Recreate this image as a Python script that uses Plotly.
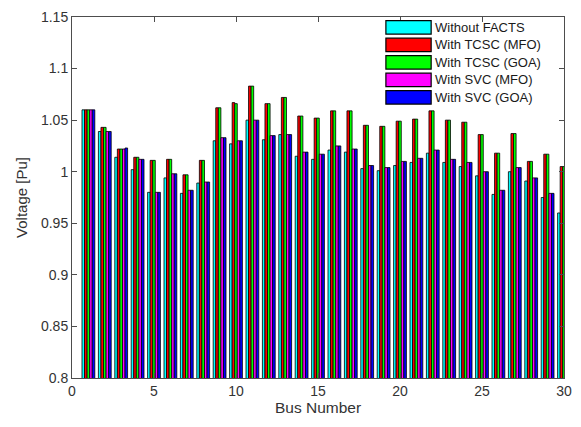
import plotly.graph_objects as go

# Bus voltage profile for the 30-bus system with and without FACTS devices
buses = list(range(1, 31))

without_facts = [1.060, 1.039, 1.014, 1.002, 0.980, 0.994, 0.979, 0.989, 1.030, 1.027,
                 1.050, 1.031, 1.036, 1.015, 1.012, 1.021, 1.019, 1.003, 1.001, 1.006,
                 1.009, 1.018, 1.009, 1.005, 0.996, 0.978, 1.000, 0.991, 0.975, 0.960]

tcsc_mfo = [1.060, 1.043, 1.022, 1.014, 1.011, 1.012, 0.997, 1.011, 1.062, 1.067,
            1.083, 1.066, 1.072, 1.054, 1.052, 1.059, 1.059, 1.045, 1.044, 1.049,
            1.051, 1.059, 1.050, 1.048, 1.036, 1.018, 1.037, 1.010, 1.017, 1.005]

tcsc_goa = [1.060, 1.043, 1.022, 1.014, 1.011, 1.012, 0.997, 1.011, 1.062, 1.066,
            1.083, 1.066, 1.072, 1.054, 1.052, 1.059, 1.059, 1.045, 1.044, 1.049,
            1.051, 1.059, 1.050, 1.048, 1.036, 1.018, 1.037, 1.010, 1.017, 1.005]

svc_mfo = [1.060, 1.039, 1.022, 1.012, 0.980, 0.998, 0.982, 0.990, 1.033, 1.030,
           1.050, 1.035, 1.036, 1.019, 1.017, 1.025, 1.022, 1.006, 1.004, 1.010,
           1.013, 1.021, 1.012, 1.009, 1.000, 0.982, 1.004, 0.994, 0.979, 0.963]

svc_goa = [1.060, 1.039, 1.023, 1.012, 0.980, 0.998, 0.982, 0.990, 1.033, 1.030,
           1.050, 1.035, 1.036, 1.019, 1.017, 1.025, 1.022, 1.006, 1.004, 1.010,
           1.013, 1.021, 1.012, 1.009, 1.000, 0.982, 1.004, 0.994, 0.979, 0.963]

series_names = ["Without FACTS", "With TCSC (MFO)", "With TCSC (GOA)",
                "With SVC (MFO)", "With SVC (GOA)"]
series_values = [without_facts, tcsc_mfo, tcsc_goa, svc_mfo, svc_goa]
series_colors = ["#00FFFF", "#FF0000", "#00FF00", "#FF00FF", "#0000FF"]

y_ticks = [0.8, 0.85, 0.9, 0.95, 1.0, 1.05, 1.1, 1.15]
y_tick_text = ["0.8", "0.85", "0.9", "0.95", "1", "1.05", "1.1", "1.15"]
x_ticks = [0, 5, 10, 15, 20, 25, 30]

FONT = "Liberation Sans, Arial, Helvetica, sans-serif"
AXIS_COLOR = "#4d4d4d"
TEXT_COLOR = "#333333"

fig = go.Figure()
for name, vals, col in zip(series_names, series_values, series_colors):
    fig.add_trace(go.Bar(
        x=buses, y=vals, name=name,
        marker=dict(color=col, line=dict(color="black", width=0.8)),
        showlegend=False,
    ))

# Legend drawn as boxed swatches with labels in the upper-right corner
L, R, T, B = 72, 9, 15, 49
W, H = 581, 427
pw, ph = W - L - R, H - T - B

def px_x(px):
    return (px - L) / pw

def px_y(py):
    return (H - B - py) / ph

row_top = 18.7
row_step = 17.6
sw_h = 13.5
for i, (name, col) in enumerate(zip(series_names, series_colors)):
    top = row_top + i * row_step
    fig.add_shape(type="rect", xref="paper", yref="paper",
                  x0=px_x(391), x1=px_x(437), y0=px_y(top + sw_h), y1=px_y(top),
                  fillcolor=col, line=dict(color="black", width=1.2))
    fig.add_annotation(xref="paper", yref="paper", x=px_x(439), y=px_y(top + sw_h / 2),
                       text=name, showarrow=False, xanchor="left", yanchor="middle",
                       font=dict(family=FONT, size=13, color="#1a1a1a"))

axis_common = dict(
    showline=True, linecolor=AXIS_COLOR, linewidth=1, mirror="ticks",
    ticks="inside", ticklen=5, tickcolor=AXIS_COLOR, showgrid=False, zeroline=False,
    tickfont=dict(family=FONT, size=14, color=TEXT_COLOR),
)

fig.update_layout(
    width=W, height=H,
    margin=dict(l=L, r=R, t=T, b=B),
    paper_bgcolor="white", plot_bgcolor="white",
    barmode="group", bargap=0.22, bargroupgap=0,
    font=dict(family=FONT, color=TEXT_COLOR),
    xaxis=dict(range=[0, 30], tickvals=x_ticks,
               title=dict(text="Bus Number", font=dict(family=FONT, size=15.5, color=TEXT_COLOR),
                          standoff=1),
               **axis_common),
    yaxis=dict(range=[0.8, 1.15], tickvals=y_ticks, ticktext=y_tick_text,
               title=dict(text="Voltage [Pu]", font=dict(family=FONT, size=15, color=TEXT_COLOR),
                          standoff=9),
               **axis_common),
)

fig.write_html("out.html")
